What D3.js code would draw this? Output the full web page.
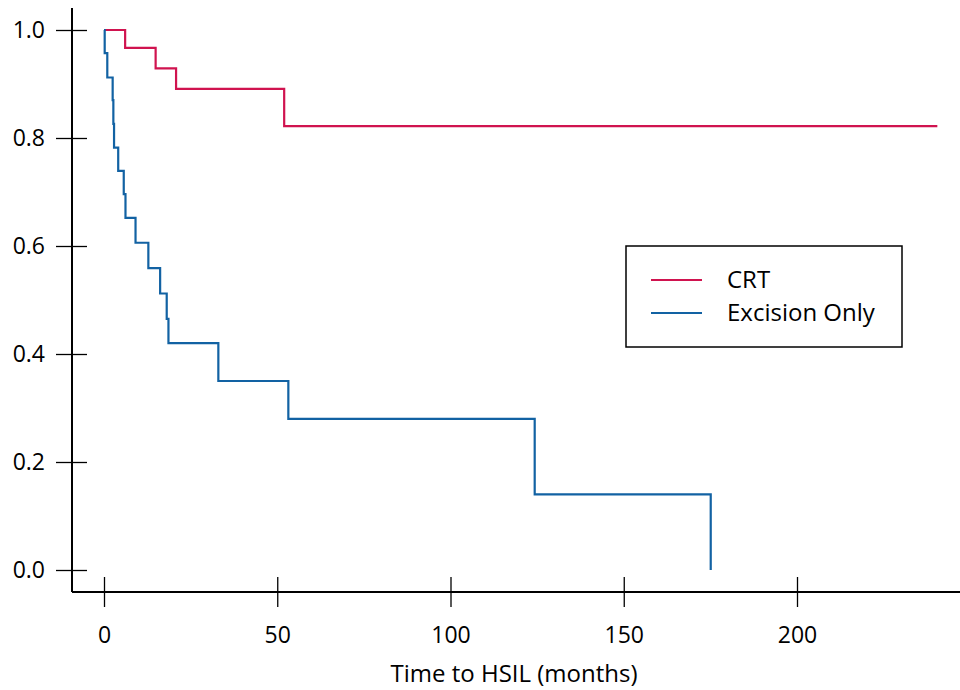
<!DOCTYPE html>
<html>
<head>
<meta charset="utf-8">
<script src="https://cdn.jsdelivr.net/npm/d3@7"></script>
<style>
  body { margin: 0; background: #fff; }
  svg text { font-family: "Open Sans", sans-serif; fill: #000; }
</style>
</head>
<body>
<div id="chart"></div>
<script>
// Kaplan-Meier steps (time in months, survival)
var crtTimes = [0, 6.1, 14.9, 20.8, 52.0, 240.5];
var crtSurv  = [1.0, 0.967, 0.929, 0.891, 0.822, 0.822];

var excTimes = [0, 0.2, 0.95, 2.5, 2.7, 2.9, 4.1, 5.7, 6.2, 9.1, 12.8, 16.2, 18.1, 18.6, 33.0, 53.2, 124.3, 175.1];
var excSurv  = [1.0, 0.957, 0.912, 0.870, 0.826, 0.782, 0.739, 0.696, 0.652, 0.606, 0.559, 0.512, 0.465, 0.420, 0.350, 0.280, 0.140, 0.0];

var xTicks = [0, 50, 100, 150, 200];
var yTicks = [0, 0.2, 0.4, 0.6, 0.8, 1.0];
var seriesNames = ["CRT", "Excision Only"];
var seriesColors = ["#d0134f", "#1262a3"];

var W = 960, H = 690;

var svg = d3.select("#chart").append("svg")
  .attr("width", W).attr("height", H);

var x = d3.scaleLinear().domain([0, 200]).range([104, 797]);
var y = d3.scaleLinear().domain([0, 1]).range([570, 30]);

// axes (tick marks cross the axis line on both sides)
var axisY = 592, axisX = 72;

var xAxis = d3.axisBottom(x).tickValues(xTicks).tickSize(0)
  .tickFormat(d3.format("d"));
var gx = svg.append("g").attr("transform", `translate(0,${axisY})`).call(xAxis);
gx.select(".domain").remove();
gx.selectAll(".tick line").attr("y1", -15).attr("y2", 15).attr("stroke", "#000").attr("stroke-width", 1.3);
gx.selectAll(".tick text").style("font-size", "23px").attr("dy", "0.71em").attr("y", 35);
gx.append("line").attr("x1", axisX).attr("x2", W).attr("y1", 0).attr("y2", 0)
  .attr("stroke", "#000").attr("stroke-width", 2);

var yAxis = d3.axisLeft(y).tickValues(yTicks).tickSize(0).tickPadding(27)
  .tickFormat(d3.format(".1f"));
var gy = svg.append("g").attr("transform", `translate(${axisX},0)`).call(yAxis);
gy.select(".domain").remove();
gy.selectAll(".tick line").attr("x1", -16).attr("x2", 15).attr("stroke", "#000").attr("stroke-width", 1.3);
gy.selectAll(".tick text").style("font-size", "23px");
gy.append("line").attr("x1", 0).attr("x2", 0).attr("y1", 8).attr("y2", axisY)
  .attr("stroke", "#000").attr("stroke-width", 2);

svg.append("text")
  .attr("x", 514).attr("y", 682)
  .attr("text-anchor", "middle")
  .style("font-size", "24px")
  .text("Time to HSIL (months)");

// step curves
var line = d3.line().x(d => x(d[0])).y(d => y(d[1])).curve(d3.curveStepAfter);

function drawCurve(times, surv, color) {
  var pts = times.map((t, i) => [t, surv[i]]);
  svg.append("path")
    .datum(pts)
    .attr("d", line)
    .attr("fill", "none")
    .attr("stroke", color)
    .attr("stroke-width", 2.2);
}
drawCurve(crtTimes, crtSurv, seriesColors[0]);
drawCurve(excTimes, excSurv, seriesColors[1]);

// legend
var lg = svg.append("g");
lg.append("rect")
  .attr("x", 626).attr("y", 246).attr("width", 276).attr("height", 101)
  .attr("fill", "#fff").attr("stroke", "#000").attr("stroke-width", 1.5);
seriesNames.forEach(function(name, i) {
  var yy = 280 + i * 33;
  lg.append("line")
    .attr("x1", 651).attr("x2", 702).attr("y1", yy).attr("y2", yy)
    .attr("stroke", seriesColors[i]).attr("stroke-width", 2);
  lg.append("text")
    .attr("x", 727).attr("y", yy).attr("dy", "0.35em")
    .style("font-size", "24px")
    .text(name);
});
</script>
</body>
</html>
